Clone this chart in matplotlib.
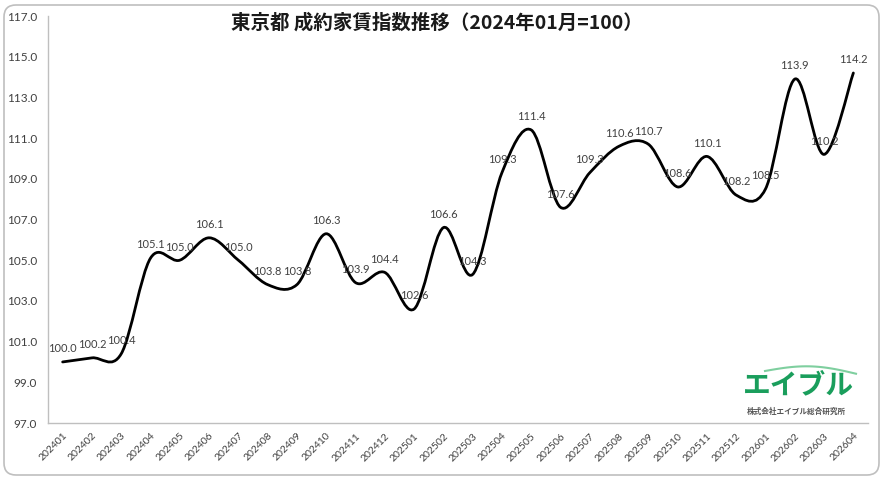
import numpy as np
import matplotlib.pyplot as plt
from matplotlib.path import Path
from matplotlib.patches import PathPatch, FancyBboxPatch
from matplotlib.transforms import IdentityTransform

# Data
months = ['202401', '202402', '202403', '202404', '202405', '202406', '202407',
          '202408', '202409', '202410', '202411', '202412', '202501', '202502',
          '202503', '202504', '202505', '202506', '202507', '202508', '202509',
          '202510', '202511', '202512', '202601', '202602', '202603', '202604']
index_values = [100.0, 100.2, 100.4, 105.1, 105.0, 106.1, 105.0,
                103.8, 103.8, 106.3, 103.9, 104.4, 102.6, 106.6,
                104.3, 109.3, 111.4, 107.6, 109.3, 110.6, 110.7,
                108.6, 110.1, 108.2, 108.5, 113.9, 110.2, 114.2]
y_ticks = [97.0, 99.0, 101.0, 103.0, 105.0, 107.0, 109.0, 111.0, 113.0, 115.0, 117.0]

title = '東京都 成約家賃指数推移（2024年01月=100）'

num_font = ['Lato', 'DejaVu Sans']
jp_font = ['Noto Sans CJK JP', 'DejaVu Sans']
text_col = '#404040'

fig = plt.figure(figsize=(8.84, 4.79), dpi=100)
ax = fig.add_axes([48 / 884, 56 / 479, 820 / 884, 407 / 479])

# Smoothed line (Excel-like Catmull-Rom bezier)
pts = np.column_stack([np.arange(len(index_values)), index_values]).astype(float)
n = len(pts)
verts = [tuple(pts[0])]
codes = [Path.MOVETO]
for i in range(n - 1):
    p0 = pts[i - 1] if i > 0 else pts[i]
    p3 = pts[i + 2] if i + 2 < n else pts[i + 1]
    c1 = pts[i] + (pts[i + 1] - p0) / 6
    c2 = pts[i + 1] - (p3 - pts[i]) / 6
    verts += [tuple(c1), tuple(c2), tuple(pts[i + 1])]
    codes += [Path.CURVE4] * 3
ax.add_patch(PathPatch(Path(verts, codes), fill=False, edgecolor='black',
                       linewidth=2.0, capstyle='round', joinstyle='round'))

# Data labels
for i, v in enumerate(index_values):
    ax.annotate(f'{v:.1f}', (i, v), xytext=(0, 9.5), textcoords='offset points',
                ha='center', va='center', fontsize=8, color=text_col,
                family=num_font)

ax.set_xlim(-0.5, n - 0.5)
ax.set_ylim(97, 117)
ax.set_yticks(y_ticks)
ax.set_yticklabels([f'{t:.1f}' for t in y_ticks], family=num_font,
                   fontsize=8.5, color=text_col)
ax.set_xticks(range(n))
ax.set_xticklabels(months, rotation=45, ha='right', rotation_mode='anchor',
                   family=num_font, fontsize=7.5, color=text_col)
ax.tick_params(axis='both', length=0)
ax.tick_params(axis='y', pad=8)
ax.tick_params(axis='x', pad=6)
for s in ['top', 'right']:
    ax.spines[s].set_visible(False)
for s in ['left', 'bottom']:
    ax.spines[s].set_color('#bfbfbf')
    ax.spines[s].set_linewidth(1.0)

# Title
fig.text(437 / 884, 1 - 23 / 479, title, ha='center', va='center',
         fontsize=14, fontweight='bold', family=jp_font, color='#1a1a1a')

# Logo
fig.text(798 / 884, 1 - 385 / 479, 'エイブル', ha='center', va='center',
         fontsize=20, fontweight='bold', family=jp_font, color='#1a9e5c')
fig.text(796 / 884, 1 - 411 / 479, '株式会社エイブル総合研究所', ha='center',
         va='center', fontsize=5.5, fontweight='bold', family=jp_font, color='#555555')
sx = np.linspace(765, 856, 30)
sy = 479 - (371 - 6 * np.sin(np.linspace(0, np.pi, 30)) + (sx - 765) * 0.03)
fig.add_artist(plt.Line2D(sx / 884, sy / 479, color='#7fcf9f', linewidth=1.5,
                          transform=fig.transFigure))

# Rounded border
fig.add_artist(FancyBboxPatch((4, 4), 875, 470,
                              boxstyle='round,pad=0,rounding_size=12',
                              transform=IdentityTransform(), fill=False,
                              edgecolor='#bfbfbf', linewidth=1.2))

fig.savefig('out.png', dpi=100)
